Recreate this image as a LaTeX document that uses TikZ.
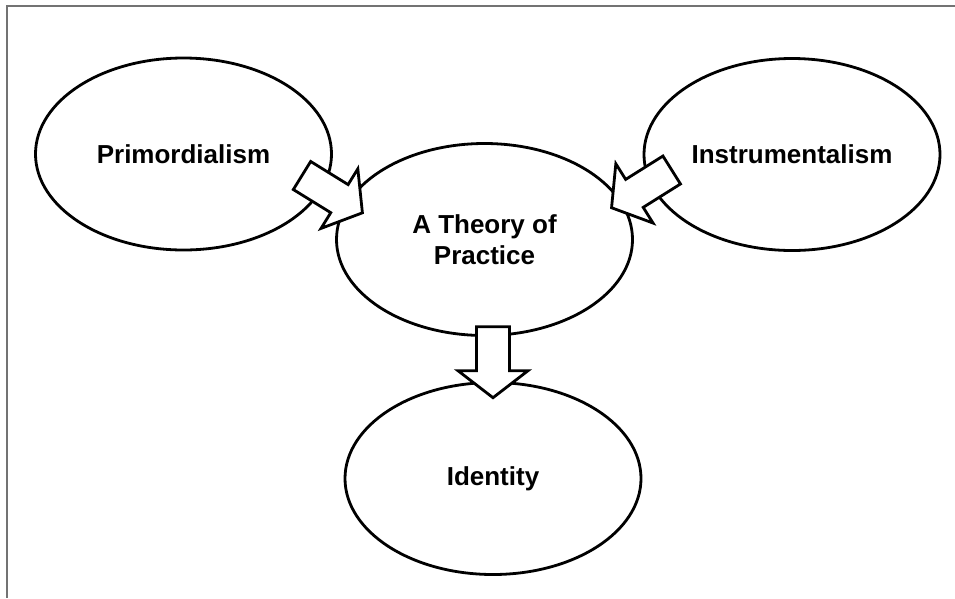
\documentclass[tikz,border=0pt]{standalone}
\usepackage{fontspec}
\setmainfont{Liberation Sans}
\usetikzlibrary{shapes.geometric}
\tikzset{
  x=1pt, y=1pt,
  bubble/.style={ellipse, draw=black, line width=2.8pt, fill=white,
    minimum width=296pt, minimum height=192pt, inner sep=0pt,
    align=center, font=\fontsize{26}{31}\selectfont\bfseries},
  arrowline/.style={draw=black, line width=2.8pt, fill=white, line join=miter},
  blockarrow/.pic={
    \path[arrowline] (0,16.5) -- (44,16.5) -- (44,35) -- (71,0) -- (44,-35)
      -- (44,-16.5) -- (0,-16.5) -- cycle;
  },
  frameline/.style={draw=black!55, line width=1.6pt}
}
\begin{document}
\begin{tikzpicture}
\useasboundingbox (0,0) rectangle (955,-598);
\fill[white] (0,0) rectangle (955,-598);
\draw[frameline] (955,-6) -- (7,-6) -- (7,-598);

\node[bubble] (prim) at (183.5,-154) {Primordialism};
\node[bubble] (instr) at (792,-154.5) {Instrumentalism};
\node[bubble] (theory) at (484.5,-239.5) {A Theory of\\Practice};
\node[bubble] (ident) at (493,-478.5) {Identity};

\pic[rotate=-31.7] at (302,-175.5) {blockarrow};
\pic[rotate=212.1] at (671.7,-170) {blockarrow};
\pic[rotate=-90] at (493,-326.7) {blockarrow};
\end{tikzpicture}
\end{document}
